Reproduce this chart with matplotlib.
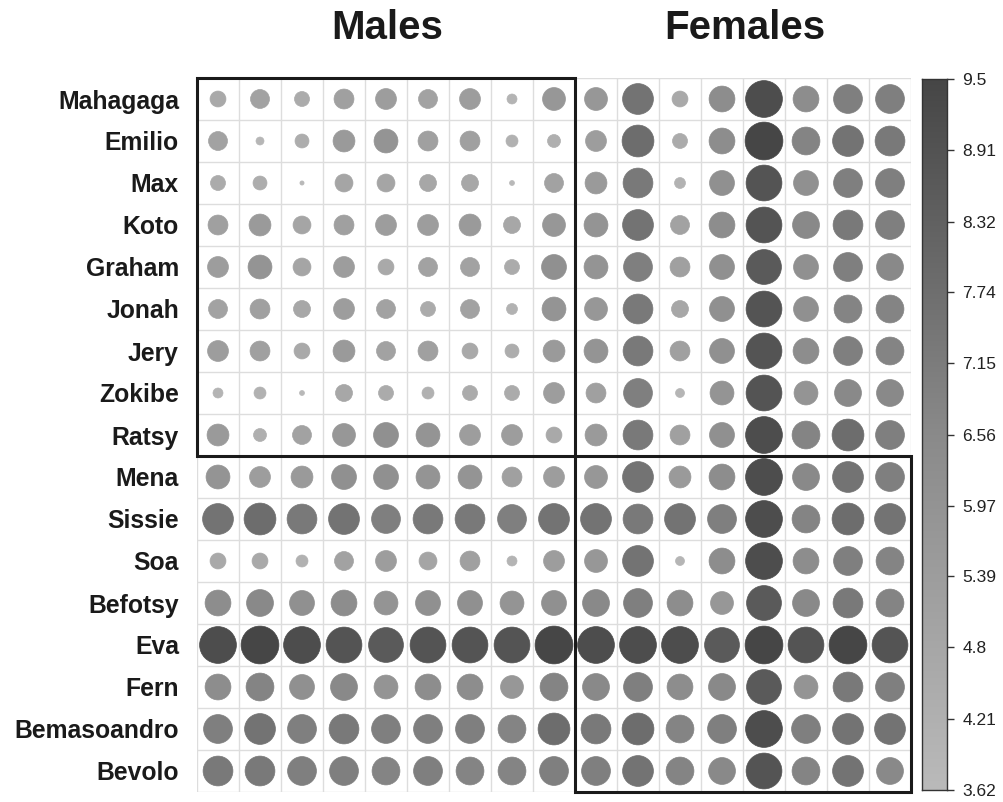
import numpy as np
import matplotlib
matplotlib.use("Agg")
import matplotlib.pyplot as plt
from matplotlib.colors import LinearSegmentedColormap, Normalize
from matplotlib.patches import Circle, Rectangle

plt.rcParams['font.family'] = ['Liberation Sans', 'DejaVu Sans']

individuals = ["Mahagaga", "Emilio", "Max", "Koto", "Graham", "Jonah", "Jery",
               "Zokibe", "Ratsy", "Mena", "Sissie", "Soa", "Befotsy", "Eva",
               "Fern", "Bemasoandro", "Bevolo"]

# values towards the 9 males (columns 1-9)
males = [
    [4.66, 5.09, 4.54, 5.25, 5.41, 5.09, 5.41, 4.03, 5.77],
    [5.09, 3.88, 4.42, 5.59, 5.97, 5.25, 5.25, 4.21, 4.31],
    [4.54, 4.42, 3.69, 4.94, 4.94, 4.80, 4.80, 3.72, 5.09],
    [5.25, 5.59, 4.94, 5.25, 5.41, 5.41, 5.59, 4.80, 5.77],
    [5.41, 5.97, 4.94, 5.41, 4.66, 5.09, 5.09, 4.54, 6.17],
    [5.09, 5.25, 4.80, 5.41, 5.09, 4.54, 5.09, 4.11, 5.97],
    [5.41, 5.25, 4.66, 5.59, 5.09, 5.25, 4.66, 4.42, 5.59],
    [4.03, 4.21, 3.72, 4.80, 4.54, 4.21, 4.54, 4.54, 5.41],
    [5.59, 4.31, 5.09, 5.77, 6.17, 5.97, 5.41, 5.41, 4.66],
    [5.97, 5.41, 5.59, 6.17, 6.17, 5.97, 5.97, 5.25, 5.41],
    [7.53, 7.79, 7.28, 7.53, 7.04, 7.28, 7.28, 7.04, 7.53],
    [4.66, 4.66, 4.21, 5.09, 5.41, 4.94, 5.25, 4.03, 5.41],
    [6.37, 6.59, 6.17, 6.37, 5.97, 6.17, 6.17, 5.97, 6.17],
    [9.19, 9.50, 9.19, 8.90, 8.61, 8.90, 8.90, 8.90, 9.50],
    [6.37, 6.81, 6.17, 6.59, 5.97, 6.37, 6.37, 5.77, 6.81],
    [7.04, 7.53, 7.04, 7.28, 7.04, 7.04, 7.04, 6.81, 7.79],
    [7.28, 7.28, 7.04, 7.04, 6.81, 7.04, 6.81, 6.81, 7.04],
]

# values towards the 8 females (columns 10-17)
females = [
    [5.77, 7.53, 4.66, 6.37, 9.19, 6.37, 7.04, 7.04],
    [5.41, 7.79, 4.54, 6.37, 9.50, 6.81, 7.53, 7.28],
    [5.59, 7.28, 4.11, 6.17, 8.90, 6.17, 7.04, 7.04],
    [5.97, 7.53, 5.09, 6.37, 8.90, 6.59, 7.28, 7.04],
    [5.97, 7.04, 5.25, 6.17, 8.61, 6.17, 7.04, 6.59],
    [5.77, 7.28, 4.80, 6.17, 8.90, 6.17, 6.81, 6.81],
    [5.97, 7.28, 5.25, 6.17, 8.90, 6.37, 7.04, 6.81],
    [5.25, 7.04, 3.95, 5.97, 8.90, 5.97, 6.59, 6.59],
    [5.59, 7.28, 5.25, 6.17, 9.19, 6.81, 7.79, 7.04],
    [5.77, 7.53, 5.59, 6.37, 9.19, 6.59, 7.53, 7.04],
    [7.53, 7.28, 7.53, 7.04, 9.19, 6.81, 7.79, 7.53],
    [5.77, 7.53, 3.95, 6.37, 9.19, 6.37, 7.04, 6.81],
    [6.59, 7.04, 6.37, 5.77, 8.61, 6.59, 7.28, 6.81],
    [9.19, 9.19, 9.19, 8.61, 9.50, 8.90, 9.50, 8.90],
    [6.59, 7.04, 6.37, 6.59, 8.61, 5.97, 7.28, 7.04],
    [7.28, 7.79, 6.81, 7.04, 9.19, 7.04, 7.53, 7.53],
    [7.04, 7.53, 6.81, 6.59, 8.90, 6.81, 7.53, 6.59],
]

vmin, vmax = 3.62, 9.5
cbar_ticks = [3.62, 4.21, 4.8, 5.39, 5.97, 6.56, 7.15, 7.74, 8.32, 8.91, 9.5]
cbar_labels = ["3.62", "4.21", "4.8", "5.39", "5.97", "6.56", "7.15", "7.74", "8.32", "8.91", "9.5"]

mat = np.hstack([np.array(males), np.array(females)])
n_rows, n_cols = mat.shape
n_males = len(males[0])
n_top = 9  # rows of male individuals

cmap = LinearSegmentedColormap.from_list("grey", ["#bababa", "#8a8a8a", "#464646"])
norm = Normalize(vmin=vmin, vmax=vmax)

fig = plt.figure(figsize=(10.04, 8.02), dpi=100)
ax = fig.add_axes([197 / 1004, 1 - 792 / 802, 714 / 1004, 714 / 802])
ax.set_xlim(0, n_cols)
ax.set_ylim(n_rows, 0)
ax.set_aspect('equal')

# grid
for k in range(n_cols + 1):
    ax.plot([k, k], [0, n_rows], color='#dddddd', lw=1, zorder=1)
for k in range(n_rows + 1):
    ax.plot([0, n_cols], [k, k], color='#dddddd', lw=1, zorder=1)

# circles
for i in range(n_rows):
    for j in range(n_cols):
        v = mat[i, j]
        frac = np.clip((v - vmin) / (vmax - vmin), 0, 1)
        r = 0.45 * np.sqrt(frac)
        c = cmap(norm(v))
        ax.add_patch(Circle((j + 0.5, i + 0.5), r, facecolor=c,
                            edgecolor=c, lw=0.5, zorder=2))

# group boxes
ax.add_patch(Rectangle((0, 0), n_males, n_top, fill=False, ec='#1a1a1a',
                       lw=2.2, zorder=3, clip_on=False))
ax.add_patch(Rectangle((n_males, n_top), n_cols - n_males, n_rows - n_top,
                       fill=False, ec='#1a1a1a', lw=2.2, zorder=3, clip_on=False))

ax.set_xticks([])
ax.set_yticks(np.arange(n_rows) + 0.5)
ax.set_yticklabels(individuals, fontsize=17.8, fontweight='bold', color='#1a1a1a')
ax.tick_params(axis='y', length=0, pad=13)
for s in ax.spines.values():
    s.set_visible(False)

fig.text(387 / 1004, 1 - 28 / 802, "Males", fontsize=29, fontweight='bold',
         ha='center', va='center', color='#1a1a1a')
fig.text(745 / 1004, 1 - 28 / 802, "Females", fontsize=29, fontweight='bold',
         ha='center', va='center', color='#1a1a1a')

# colour bar
cax = fig.add_axes([922 / 1004, 1 - 790 / 802, 25 / 1004, 711 / 802])
grad = np.linspace(vmin, vmax, 256).reshape(-1, 1)
cax.imshow(grad, aspect='auto', cmap=cmap, norm=norm, origin='lower',
           extent=[0, 1, vmin, vmax])
cax.set_xticks([])
cax.yaxis.tick_right()
cax.set_yticks(cbar_ticks)
cax.set_yticklabels(cbar_labels, fontsize=12.5, color='#222222')
cax.tick_params(axis='y', length=5, width=1, pad=6, color='#333333')
for s in cax.spines.values():
    s.set_color('#333333')
    s.set_linewidth(1)

fig.savefig("out.png", dpi=100)
